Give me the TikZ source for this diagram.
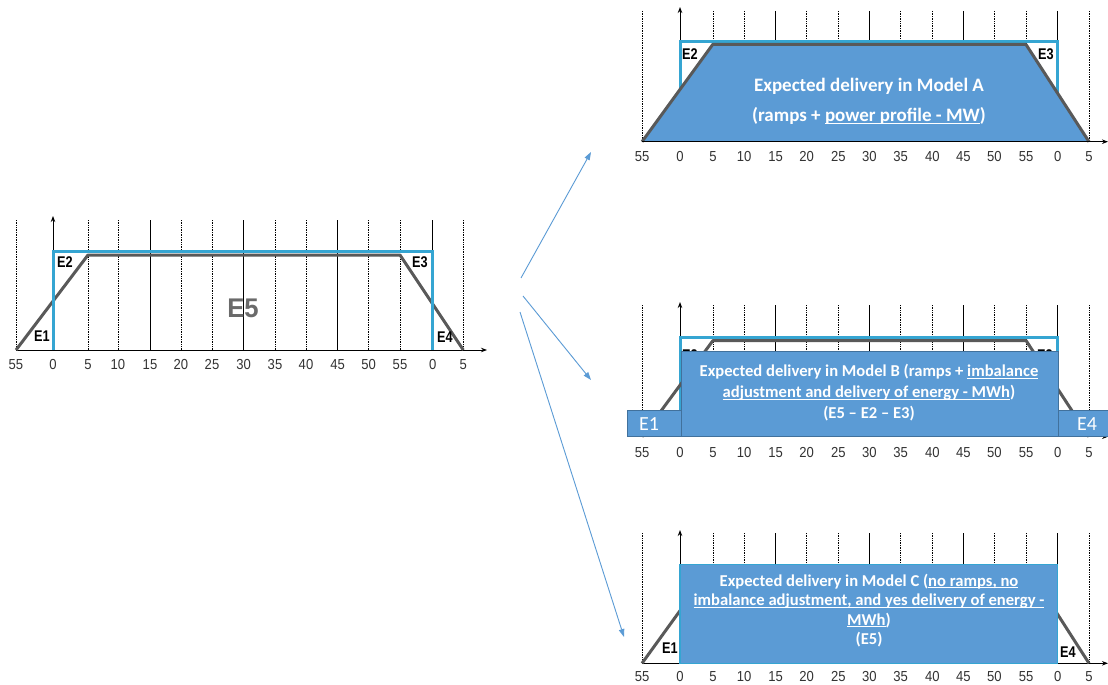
\documentclass[tikz,border=0pt]{standalone}
\usepackage{fontspec}
\setmainfont{Carlito}
\newfontfamily\narrowsans[FakeStretch=0.9]{Liberation Sans}
\newfontfamily\narrowbold[FakeStretch=0.82]{Liberation Sans}
\newfontfamily\wideE[FakeStretch=0.95]{Liberation Sans}
\usetikzlibrary{arrows.meta}
\newcommand{\uln}[1]{\underline{\smash{#1}}}
\definecolor{fillblue}{HTML}{5B9BD5}
\definecolor{edgeblue}{HTML}{41719C}
\definecolor{lightblue}{HTML}{35A5D2}
\definecolor{rampgray}{HTML}{595959}
\definecolor{arrowblue}{HTML}{5B9BD5}
\definecolor{egray}{HTML}{6A6A6A}
\def\Ldot{16,88,118,181,212,275,306,368.7,400,463.3}
\def\Lsol{150,243.7,337.7,432.7}
\def\Llab{16/55,53/0,88/5,118/10,150/15,181/20,212/25,243.7/30,275/35,306/40,337.7/45,368.7/50,400/55,432.7/0,463.3/5}
\def\Rdot{642,713,744,806.7,838.3,900.7,932.3,994.3,1026,1089}
\def\Rsol{775.7,869.3,963.3,1057.7}
\def\Rlab{642/55,680/0,713/5,744/10,775.7/15,806.7/20,838.3/25,869.3/30,900.7/35,932.3/40,963.3/45,994.3/50,1026/55,1057.7/0,1089/5}
\tikzset{
  gridd/.style={draw=black, line width=0.8pt, dash pattern=on 0.8pt off 0.9pt},
  grids/.style={draw=black, line width=0.8pt},
  axisline/.style={draw=black, line width=1pt},
  axisarrow/.style={-{Stealth[length=6pt,width=4.5pt]}},
  rampline/.style={draw=rampgray, line width=3pt, line join=round},
  outlinebox/.style={draw=lightblue, line width=3pt},
  ticklab/.style={font=\narrowsans\fontsize{14.5}{14.5}\selectfont, text=black!80, inner sep=0pt},
  elab/.style={font=\narrowbold\bfseries\fontsize{15.5}{15.5}\selectfont, text=black, inner sep=0pt},
  bigE/.style={font=\wideE\bfseries\fontsize{27}{27}\selectfont, text=egray, inner sep=0pt},
  wlab/.style={font=\fontsize{20}{20}\selectfont, text=white, inner sep=0pt},
  boxtext/.style={text=white, align=center, inner sep=0pt, font=\bfseries},
  flow/.style={draw=arrowblue, line width=0.9pt, -{Triangle[length=8pt,width=5.5pt]}},
}
\begin{document}
\begin{tikzpicture}[x=1pt,y=-1pt]
\useasboundingbox (0,0) rectangle (1108,685);
\fill[white] (0,0) rectangle (1108,685);

% ===== Left chart =====
\foreach \x in \Ldot \draw[gridd] (\x,220) -- (\x,350);
\foreach \x in \Lsol \draw[grids] (\x,220) -- (\x,350);
\draw[axisline,axisarrow] (53,350) -- (53,216);
\draw[axisline,axisarrow] (16,350) -- (487,350);
\foreach \x/\l [count=\i] in \Llab \node[ticklab] (L\i) at (\x,365) {\l};
\draw[rampline] (16,350) -- (88,255) -- (400,255) -- (463.3,350);
\draw[outlinebox] (53,350) -- (53,251) -- (432.7,251) -- (432.7,350);
\node[elab] (LE1) at (42,336) {E1};
\node[elab] (LE2) at (65,262) {E2};
\node[elab] (LE3) at (420,262) {E3};
\node[elab] (LE4) at (445,337) {E4};
\node[bigE] (LE5) at (243,308) {E5};

% ===== Model A =====
\foreach \x in \Rdot \draw[gridd] (\x,11) -- (\x,141.7);
\foreach \x in \Rsol \draw[grids] (\x,11) -- (\x,141.7);
\draw[axisline,axisarrow] (680,141.7) -- (680,7);
\draw[outlinebox] (680,141.7) -- (680,41.5) -- (1057.7,41.5) -- (1057.7,141.7);
\node[elab] (AE2) at (690,54) {E2};
\node[elab] (AE3) at (1046,54) {E3};
\fill[fillblue] (642,141.7) -- (712.7,44.5) -- (1026,44.5) -- (1089,141.7) -- cycle;
\draw[rampline] (642,141.7) -- (712.7,44.5) -- (1026,44.5) -- (1089,141.7);
\draw[axisline,axisarrow] (642,141.7) -- (1108,141.7);
\foreach \x/\l [count=\i] in \Rlab \node[ticklab] (A\i) at (\x,157) {\l};
\node[boxtext, font=\bfseries\fontsize{19}{30}\selectfont] (Atext) at (869,101.5)
  {Expected delivery in Model A\\(ramps + \uln{power profile - MW})};

% ===== Model B =====
\foreach \x in \Rdot \draw[gridd] (\x,305) -- (\x,436.7);
\foreach \x in \Rsol \draw[grids] (\x,305) -- (\x,436.7);
\draw[axisline,axisarrow] (680,436.7) -- (680,302);
\draw[axisline,axisarrow] (642,436.7) -- (1108,436.7);
\draw[outlinebox] (680,436.7) -- (680,337) -- (1057.7,337) -- (1057.7,436.7);
\draw[rampline] (642,436.7) -- (713,340.5) -- (1026,340.5) -- (1089,436.7);
\node[elab] (BE2) at (690,355) {E2};
\node[elab] (BE3) at (1045,355) {E3};
\draw[fill=fillblue, draw=edgeblue, line width=1pt] (627,410) rectangle (681.7,436.7);
\draw[fill=fillblue, draw=edgeblue, line width=1pt] (1058,410) rectangle (1109,436.7);
\draw[fill=fillblue, draw=edgeblue, line width=1pt] (681.7,351.7) rectangle (1058,436.7);
\node[wlab] (BE1) at (649,424) {E1};
\node[wlab] (BE4) at (1087,424) {E4};
\foreach \x/\l [count=\i] in \Rlab \node[ticklab] (B\i) at (\x,453) {\l};
\node[boxtext, font=\bfseries\fontsize{16.6}{21}\selectfont] (Btext) at (869,393)
  {Expected delivery in Model B (ramps + \uln{imbalance}\\\uln{adjustment and delivery of energy - MWh})\\(E5 -- E2 -- E3)};

% ===== Model C =====
\foreach \x in \Rdot \draw[gridd] (\x,533) -- (\x,663.3);
\foreach \x in \Rsol \draw[grids] (\x,533) -- (\x,663.3);
\draw[axisline,axisarrow] (680,663.3) -- (680,530);
\draw[axisline,axisarrow] (642,663.3) -- (1108,663.3);
\draw[rampline] (642,663.3) -- (713,565);
\draw[rampline] (1026,565) -- (1089,663.3);
\node[elab] (CE1) at (670,648) {E1};
\node[elab] (CE4) at (1068,652) {E4};
\draw[fill=fillblue, draw=lightblue, line width=1.5pt] (680,564.5) rectangle (1057.7,663.3);
\foreach \x/\l [count=\i] in \Rlab \node[ticklab] (C\i) at (\x,677) {\l};
\node[boxtext, font=\bfseries\fontsize{16.6}{19.5}\selectfont] (Ctext) at (869,610.5)
  {Expected delivery in Model C (\uln{no ramps, no}\\\uln{imbalance adjustment, and yes delivery of energy -}\\\uln{MWh})\\(E5)};

% ===== Arrows =====
\coordinate (a1s) at (521,278);
\coordinate (a1e) at (591,152);
\coordinate (a2s) at (523,296);
\coordinate (a2e) at (591,380);
\coordinate (a3s) at (520,312);
\coordinate (a3e) at (624,637);
\draw[flow] (a1s) -- (a1e);
\draw[flow] (a2s) -- (a2e);
\draw[flow] (a3s) -- (a3e);
\end{tikzpicture}
\end{document}
